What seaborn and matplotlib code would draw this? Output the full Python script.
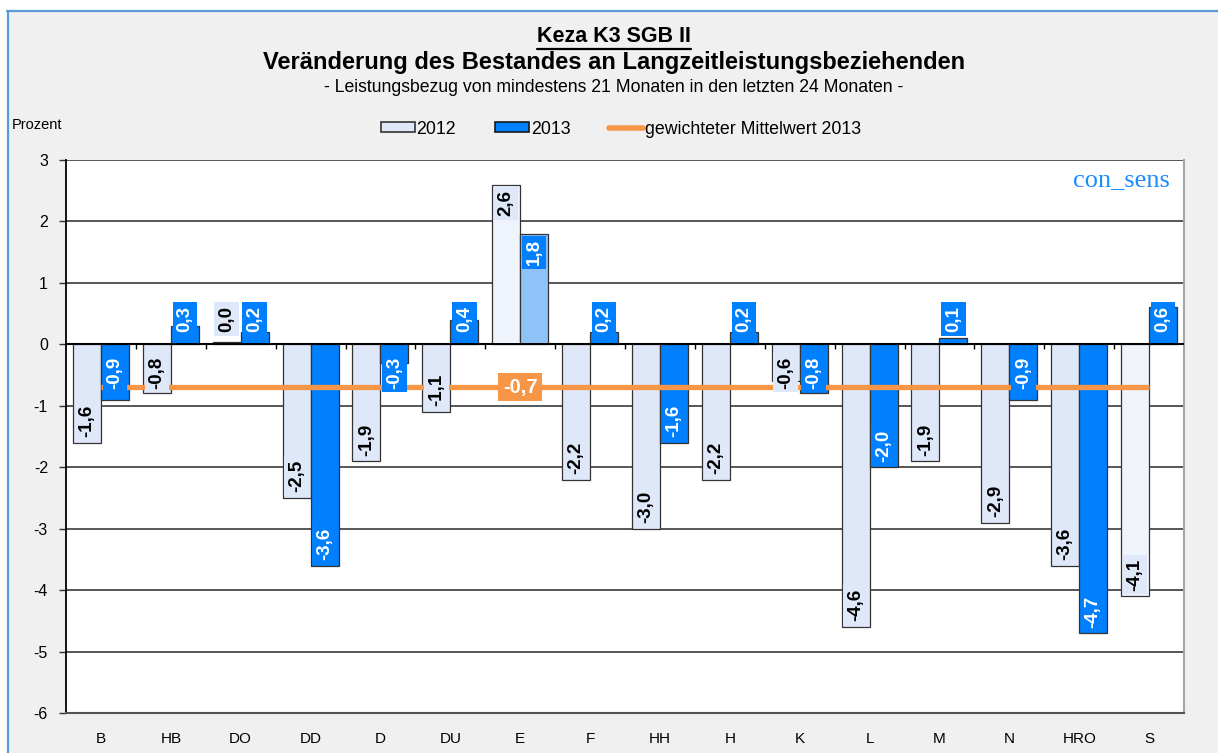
import numpy as np
import pandas as pd
import matplotlib
matplotlib.use("Agg")
import matplotlib.pyplot as plt
import seaborn as sns
from matplotlib.patches import Patch, Rectangle
from matplotlib.lines import Line2D

# ---------------- data ----------------
categories = ["B", "HB", "DO", "DD", "D", "DU", "E", "F", "HH", "H", "K", "L", "M", "N", "HRO", "S"]
werte_2012 = [-1.6, -0.8, 0.03, -2.5, -1.9, -1.1, 2.6, -2.2, -3.0, -2.2, -0.6, -4.6, -1.9, -2.9, -3.6, -4.1]
werte_2013 = [-0.9, 0.3, 0.2, -3.6, -0.3, 0.4, 1.8, 0.2, -1.6, 0.2, -0.8, -2.0, 0.1, -0.9, -4.7, 0.6]
mittelwert_2013 = -0.7
jahre = ["2012", "2013"]
y_ticks = [-6, -5, -4, -3, -2, -1, 0, 1, 2, 3]

title1 = "Keza K3 SGB II"
title2 = "Veränderung des Bestandes an Langzeitleistungsbeziehenden"
title3 = "- Leistungsbezug von mindestens 21 Monaten in den letzten 24 Monaten -"
legend_mean = "gewichteter Mittelwert 2013"

# ---------------- style ----------------
sns.set_style("white")
plt.rcParams["font.family"] = ["Liberation Sans", "DejaVu Sans"]
plt.rcParams["text.color"] = "black"
plt.rcParams["xtick.color"] = "black"
plt.rcParams["ytick.color"] = "black"

C12 = "#dfe8f9"
C13 = "#0080ff"
C_ORANGE = "#f79646"
C_EDGE = "#333333"
BG = "#f0f0f0"

df = pd.DataFrame({
    "Region": categories * 2,
    "Wert": werte_2012 + werte_2013,
    "Jahr": [jahre[0]] * len(categories) + [jahre[1]] * len(categories),
})

fig = plt.figure(figsize=(12.18, 7.53), dpi=100, facecolor=BG)
W, H = 1218, 753
ax = fig.add_axes([66 / W, 1 - 713 / H, (1184 - 66) / W, (713 - 160) / H])
ax.set_facecolor("white")

# frame decorations (white margin + blue border like the original crop)
fig.patches.append(Rectangle((0, 1 - 10 / H), 1, 10 / H, transform=fig.transFigure,
                             facecolor="white", edgecolor="none", zorder=0))
fig.patches.append(Rectangle((0, 0), 7 / W, 1, transform=fig.transFigure,
                             facecolor="white", edgecolor="none", zorder=0))
fig.add_artist(Line2D([7 / W, 1], [1 - 11 / H, 1 - 11 / H], transform=fig.transFigure,
                      color="#5b9bd5", lw=1.6))
fig.add_artist(Line2D([7.5 / W, 7.5 / W], [0, 1 - 11 / H], transform=fig.transFigure,
                      color="#5b9bd5", lw=1.6))

# gridlines
for t in y_ticks:
    ax.axhline(t, color="#3a3a3a" if t != 0 else "black", lw=1.2 if t != 0 else 1.5, zorder=0.5)

sns.barplot(data=df, x="Region", y="Wert", hue="Jahr", hue_order=jahre,
            palette={jahre[0]: C12, jahre[1]: C13}, saturation=1, width=0.8,
            edgecolor=C_EDGE, linewidth=0.9, legend=False, ax=ax, zorder=2)

# special (patterned) bars in the original
for i, cat in enumerate(categories):
    if cat in ("E", "S"):
        ax.containers[0].patches[i].set_facecolor("#eef3fc")
    if cat == "E":
        ax.containers[1].patches[i].set_facecolor("#8fc2f7")

# zero line on top
ax.axhline(0, color="black", lw=1.4, zorder=3)

# weighted mean line
xs = np.arange(len(categories))
ax.plot(xs, [mittelwert_2013] * len(categories), color=C_ORANGE, lw=3.8, zorder=4,
        solid_capstyle="butt")
ax.text(categories.index("E"), mittelwert_2013, f"{mittelwert_2013:.1f}".replace(".", ","),
        ha="center", va="center", color="white", fontsize=14.5, fontweight="bold", zorder=6,
        bbox=dict(boxstyle="square,pad=0.22", fc=C_ORANGE, ec="none"))

# bar labels
def add_labels(container, values, fc, tc):
    for p, v in zip(container.patches, values):
        x = p.get_x() + p.get_width() / 2
        txt = f"{v:.1f}".replace(".", ",")
        if v < 0:
            if v <= -1.0:
                y, va = v + 0.09, "bottom"
            else:
                y, va = -0.72, "bottom"
        else:
            if v >= 1.0:
                y, va = v - 0.09, "top"
            else:
                y, va = 0.2, "bottom"
        ax.text(x, y, txt, rotation=90, ha="center", va=va, color=tc, fontsize=13.5,
                fontweight="bold", zorder=7,
                bbox=dict(boxstyle="square,pad=0.2", fc=fc, ec="none"))

add_labels(ax.containers[0], werte_2012, C12, "black")
add_labels(ax.containers[1], werte_2013, C13, "white")

# axes formatting
ax.set_ylim(-6, 3)
ax.set_xlim(-0.5, len(categories) - 0.5)
ax.set_yticks(y_ticks)
ax.set_yticklabels([str(t) for t in y_ticks])
ax.set_xlabel("")
ax.set_ylabel("")
ax.tick_params(axis="y", which="both", left=True, length=5, width=1, color="#333333",
               labelsize=11.5, pad=8)
ax.tick_params(axis="x", bottom=False, labelsize=11, pad=10)
ax.spines["left"].set_color("black")
ax.spines["left"].set_linewidth(1.3)
ax.spines["right"].set_color("#a6a6a6")
ax.spines["right"].set_linewidth(1.5)
ax.spines["bottom"].set_color("#555555")
ax.spines["bottom"].set_linewidth(1.5)
ax.spines["top"].set_visible(False)

# category separator ticks at zero line
ax.vlines(np.arange(len(categories) - 1) + 0.5, -0.08, 0, color="black", lw=1, zorder=3)

# titles
t1 = fig.text(614 / W, 1 - 37 / H, title1, ha="center", va="center", fontsize=15.5,
              fontweight="bold")
fig.text(614 / W, 1 - 62 / H, title2, ha="center", va="center", fontsize=17, fontweight="bold")
fig.text(614 / W, 1 - 87 / H, title3, ha="center", va="center", fontsize=12.7)
fig.canvas.draw()
bb = t1.get_window_extent()
fig.add_artist(Line2D([bb.x0 / W, bb.x1 / W], [(bb.y0 - 1) / H, (bb.y0 - 1) / H],
                      transform=fig.transFigure, color="black", lw=1.6))

fig.text(12 / W, 1 - 125 / H, "Prozent", ha="left", va="center", fontsize=10.5)
fig.text(1170 / W, 1 - 180 / H, "con_sens", ha="right", va="center", fontsize=19,
         family="Liberation Serif", color="#1a8cff")

handles = [Patch(facecolor=C12, edgecolor=C_EDGE, lw=1.2),
           Patch(facecolor=C13, edgecolor="#1a1a1a", lw=1.2),
           Line2D([0], [0], color=C_ORANGE, lw=4)]
fig.legend(handles, jahre + [legend_mean], loc="center", bbox_to_anchor=(621 / W, 1 - 129 / H),
           ncol=3, frameon=False, fontsize=12.8, handlelength=1.9, handleheight=0.5,
           handletextpad=0.1, columnspacing=2.2)

fig.savefig("out.png", dpi=100, facecolor=BG)
